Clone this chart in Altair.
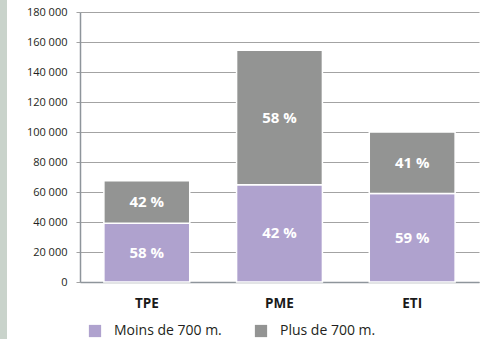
import altair as alt
import pandas as pd

# Company size categories and the two stacked series
categories = ["TPE", "PME", "ETI"]
series = ["Moins de 700 m.", "Plus de 700 m."]
moins = [39200, 64800, 59000]
plus = [28300, 89700, 41000]
colors = ["#afa2ce", "#939493"]
y_ticks = [0, 20000, 40000, 60000, 80000, 100000, 120000, 140000, 160000, 180000]

FONT = "Open Sans"

rows = []
for cat, m, p in zip(categories, moins, plus):
    total = m + p
    rows.append({"cat": cat, "serie": series[0], "value": m, "rank": 0,
                 "mid": m / 2, "pct": f"{round(100 * m / total)} %"})
    rows.append({"cat": cat, "serie": series[1], "value": p, "rank": 1,
                 "mid": m + p / 2, "pct": f"{round(100 * p / total)} %"})
df = pd.DataFrame(rows)

x_axis = alt.Axis(title=None, labelAngle=0, ticks=False, domainColor="#8e959b",
                  domainWidth=1.5, labelFont=FONT, labelFontSize=13.5,
                  labelFontWeight="bold", labelColor="#1a1a1a", labelPadding=14,
                  grid=False)
x_scale = alt.Scale(paddingInner=0.353, paddingOuter=0.18)

y_axis = alt.Axis(title=None, values=y_ticks, labelOverlap=False,
                  labelExpr="replace(format(datum.value, ',d'), ',', ' ')",
                  labelFont=FONT, labelFontSize=11, labelColor="#231f20",
                  tickSize=4, tickColor="#a3a3a3", labelPadding=9,
                  domainColor="#8e959b", domainWidth=1.5,
                  grid=True, gridColor="#a3a3a3", gridWidth=1)
y_scale = alt.Scale(domain=[0, 180000], nice=False)

bars = alt.Chart(df).mark_bar(stroke="white", strokeWidth=1.5).encode(
    x=alt.X("cat:N", sort=categories, scale=x_scale, axis=x_axis),
    y=alt.Y("value:Q", stack="zero", scale=y_scale, axis=y_axis),
    color=alt.Color(
        "serie:N", scale=alt.Scale(domain=series, range=colors),
        legend=alt.Legend(title=None, orient="none", legendX=8, legendY=312,
                          direction="horizontal", symbolType="square",
                          symbolSize=150, symbolStrokeWidth=0, labelFont=FONT,
                          labelFontSize=14, labelColor="#231f20",
                          labelOffset=12, columnPadding=32),
    ),
    order=alt.Order("rank:Q"),
)

labels = alt.Chart(df).mark_text(
    color="white", font=FONT, fontSize=15, fontWeight="bold", baseline="middle"
).encode(
    x=alt.X("cat:N", sort=categories, scale=x_scale, axis=x_axis),
    y=alt.Y("mid:Q", scale=y_scale, axis=y_axis),
    text="pct:N",
)

# Narrow tinted strip along the left edge of the page
strip = alt.Chart(pd.DataFrame({"k": [0]})).mark_rect(color="#c9d3cb", clip=False).encode(
    x=alt.value(-80), x2=alt.value(-73), y=alt.value(-12), y2=alt.value(327)
)

chart = alt.layer(strip, bars, labels).properties(
    width=399, height=270,
    background="white",
    autosize=alt.AutoSizeParams(type="none"),
    padding={"left": 80, "top": 12, "right": 9, "bottom": 57},
).configure_view(strokeWidth=0)

chart.save("out.html", embed_options={"renderer": "svg", "actions": False})
